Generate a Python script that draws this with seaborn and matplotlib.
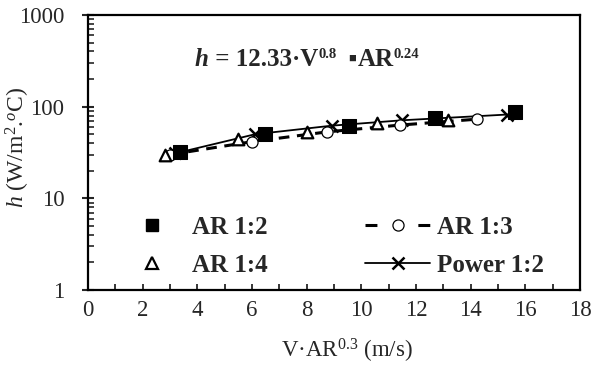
import matplotlib
matplotlib.use("Agg")
import matplotlib.pyplot as plt
import matplotlib.transforms as mtransforms
import seaborn as sns
import pandas as pd
from matplotlib.lines import Line2D
from matplotlib.ticker import MultipleLocator, LogLocator, NullFormatter, FixedLocator

# data
ar12_x = [3.37, 6.48, 9.55, 12.70, 15.62]
ar12_y = [32.0, 50.0, 62.0, 75.0, 87.0]
ar13_x = [3.0, 6.0, 8.73, 11.42, 14.22]
ar13_y = [30.0, 41.5, 53.0, 63.0, 73.0]
ar14_x = [2.8, 5.5, 8.0, 10.56, 13.18]
ar14_y = [29.5, 44.0, 53.0, 66.0, 71.0]
pow_x = [3.2, 6.11, 8.91, 11.48, 15.32]
pow_y = [31.0, 50.0, 62.0, 71.0, 82.0]
x_ticks = [0, 2, 4, 6, 8, 10, 12, 14, 16, 18]
y_ticks = [1, 10, 100, 1000]
legend_labels = ["AR 1:2", "AR 1:4", "AR 1:3", "Power 1:2"]

sns.set_style("ticks")
plt.rcParams["font.family"] = ["Liberation Serif", "DejaVu Serif", "DejaVu Sans"]
plt.rcParams["mathtext.fontset"] = "custom"
plt.rcParams["mathtext.rm"] = "Liberation Serif"
plt.rcParams["mathtext.it"] = "Liberation Serif:italic"
plt.rcParams["mathtext.bf"] = "Liberation Serif:bold"

fig = plt.figure(figsize=(5.93, 3.66), dpi=100)
ax = fig.add_axes([88/593, 1-290/366, (580-88)/593, (290-15)/366])

d12 = pd.DataFrame({"x": ar12_x, "y": ar12_y})
d13 = pd.DataFrame({"x": ar13_x, "y": ar13_y})
d14 = pd.DataFrame({"x": ar14_x, "y": ar14_y})
dp = pd.DataFrame({"x": pow_x, "y": pow_y})

sns.lineplot(data=dp, x="x", y="y", ax=ax, color="black", lw=1.3, marker="x",
             markersize=8, markeredgewidth=1.8, markeredgecolor="black",
             legend=False, zorder=3)
sns.lineplot(data=d13, x="x", y="y", ax=ax, color="black", lw=2.2, marker="o",
             markersize=8, markerfacecolor="white", markeredgecolor="black",
             markeredgewidth=0.9, legend=False, zorder=3)
ax.lines[-1].set_dashes([3.5, 2.5])
sns.scatterplot(data=d12, x="x", y="y", ax=ax, color="black", marker="s", s=90,
                edgecolor="black", legend=False, zorder=4)
sns.scatterplot(data=d14, x="x", y="y", ax=ax, color="white", marker="^", s=70,
                edgecolor="black", linewidth=1.6, legend=False, zorder=4)

ax.set_yscale("log")
ax.set_xlim(0, 18)
ax.set_ylim(1, 1000)
ax.xaxis.set_major_locator(FixedLocator(x_ticks))
ax.xaxis.set_minor_locator(MultipleLocator(1))
ax.set_xticklabels([str(t) for t in x_ticks])
ax.yaxis.set_major_locator(FixedLocator(y_ticks))
ax.set_yticklabels([str(t) for t in y_ticks])
ax.yaxis.set_minor_locator(LogLocator(base=10, subs=range(2, 10)))
ax.yaxis.set_minor_formatter(NullFormatter())

ax.tick_params(axis="x", which="both", direction="in", length=4, width=1.3,
               labelsize=16.5, pad=7)
ax.tick_params(axis="y", which="major", direction="inout", length=8, width=1.5,
               labelsize=16.5, pad=13)
ax.tick_params(axis="y", which="minor", direction="in", length=4, width=1.2)
for s in ax.spines.values():
    s.set_linewidth(1.6)
    s.set_color("black")

ax.set_xlabel("V·AR$^{0.3}$ (m/s)", fontsize=16.5)
ax.xaxis.set_label_coords(0.526, -0.17)
ax.set_ylabel("$\\it{h}$ (W/m$^{2}$.$^{o}$C)", fontsize=17)
ax.yaxis.set_label_coords(-0.114, 0.52)

# equation annotation built from pieces
renderer = fig.canvas.get_renderer()
pieces = [("h", 18, "italic", 0), (" = 12.33·V", 18, "normal", 0),
          ("0.8", 10.5, "normal", 8), ("  ▪", 18, "normal", 0),
          ("AR", 18, "normal", 0), ("0.24", 10.5, "normal", 8)]
dx = 0.0
for s, size, style, rise in pieces:
    tr = mtransforms.offset_copy(ax.transAxes, fig=fig, x=dx, y=rise, units="dots")
    t = ax.text(0.2175, 0.815, s, transform=tr, fontsize=size, fontweight="bold",
                fontstyle=style, va="baseline", ha="left")
    dx += t.get_window_extent(renderer).width

h12 = Line2D([], [], ls="none", marker="s", ms=9, color="black")
h14 = Line2D([], [], ls="none", marker="^", ms=8, mfc="white", mec="black", mew=1.6)
h13 = Line2D([], [], ls=(0, (3.9, 13.4)), lw=2.2, color="black", marker="o", ms=8,
             mfc="white", mec="black", mew=0.9)
hp = Line2D([], [], ls="-", lw=1.3, color="black", marker="x", ms=8, mew=1.8)
leg = ax.legend([h12, h14, h13, hp], legend_labels,
                ncol=2, frameon=False, loc="upper left",
                bbox_to_anchor=(0.065, 0.269), handlelength=2.6, handletextpad=0.28,
                columnspacing=3.9, labelspacing=0.6, borderpad=0, borderaxespad=0,
                prop={"weight": "bold", "size": 18})

fig.savefig("out.png", dpi=100)
